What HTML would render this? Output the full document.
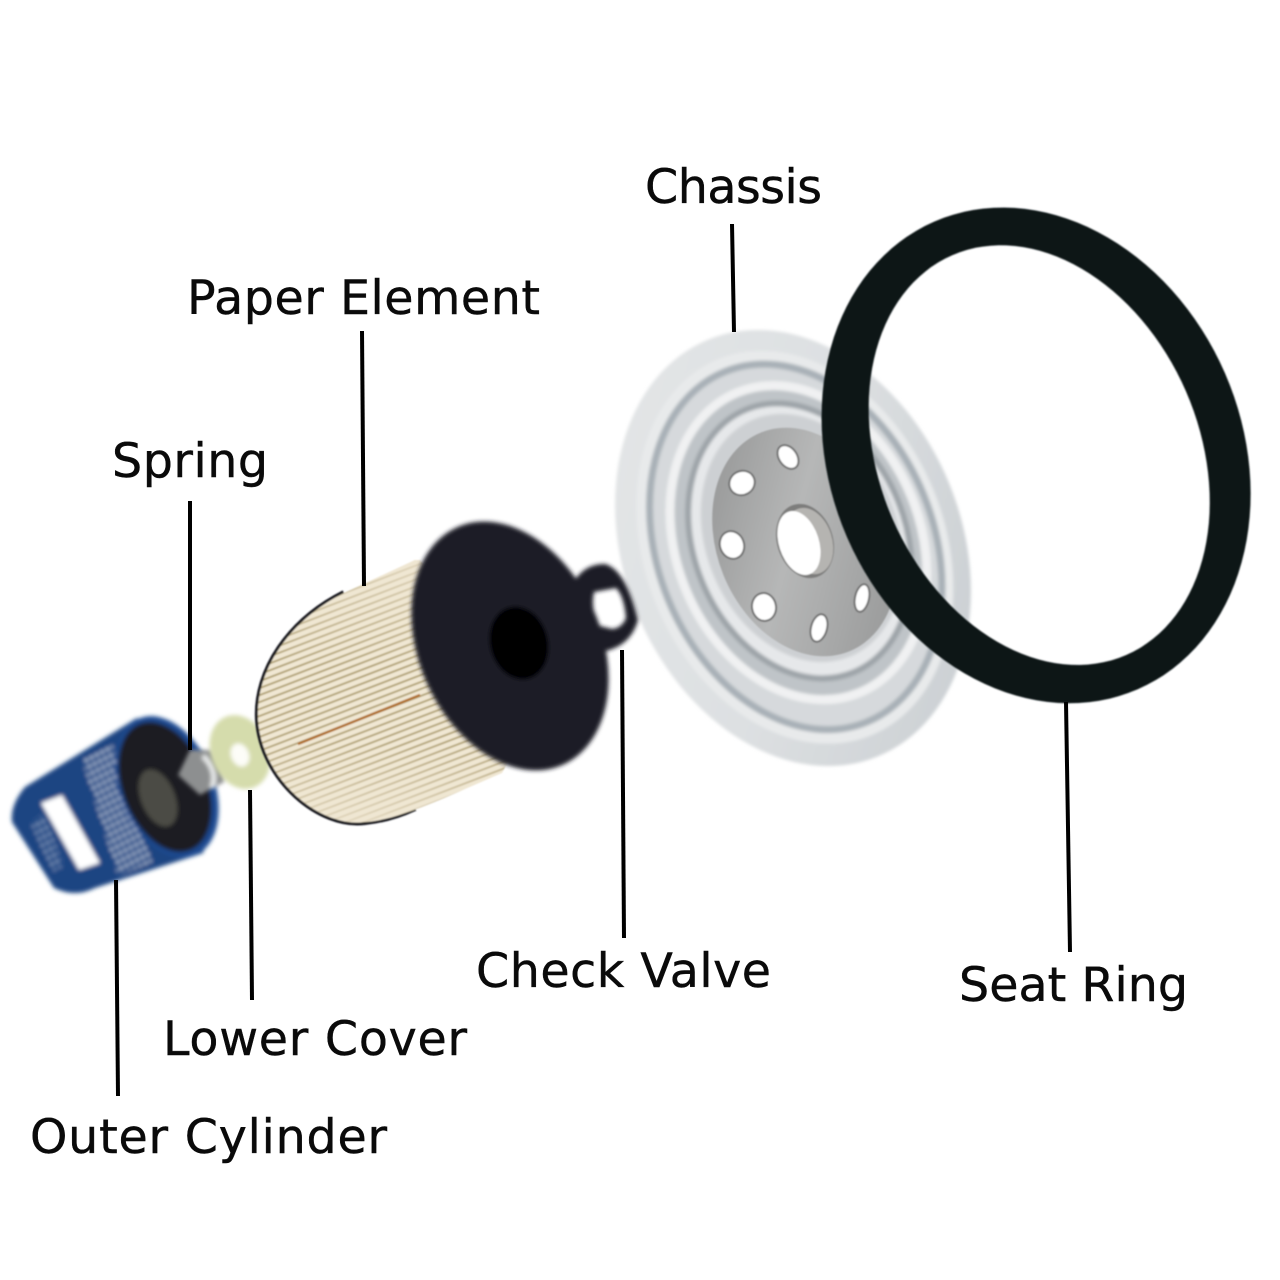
<!DOCTYPE html>
<html><head><meta charset="utf-8"><style>html,body{margin:0;padding:0;background:#fff}svg{display:block}
text{font-family:"DejaVu Sans","Liberation Sans",sans-serif;font-size:47.5px;fill:#0a0a0a;stroke:#0a0a0a;stroke-width:.45px}</style></head><body>
<svg width="1280" height="1280" viewBox="0 0 1280 1280" xmlns="http://www.w3.org/2000/svg">
<defs>
<filter id="b05" x="-10%" y="-10%" width="120%" height="120%"><feGaussianBlur stdDeviation="0.5"/></filter>
<filter id="b1" x="-10%" y="-10%" width="120%" height="120%"><feGaussianBlur stdDeviation="0.8"/></filter>
<filter id="b15" x="-10%" y="-10%" width="120%" height="120%"><feGaussianBlur stdDeviation="1.6"/></filter>
<filter id="b2" x="-10%" y="-10%" width="120%" height="120%"><feGaussianBlur stdDeviation="2"/></filter>
<linearGradient id="plate" x1="0" y1="0" x2="1" y2="1"><stop offset="0" stop-color="#8f9090"/><stop offset=".45" stop-color="#b6b7b7"/><stop offset="1" stop-color="#929393"/></linearGradient>
<linearGradient id="outerg" x1="0" y1="0" x2="1" y2="1"><stop offset="0" stop-color="#e4e6e7"/><stop offset=".5" stop-color="#dde0e2"/><stop offset="1" stop-color="#c6cbcf"/></linearGradient>
<pattern id="pleat" width="6.5" height="6.5" patternUnits="userSpaceOnUse" patternTransform="rotate(-21)"><rect width="6.5" height="6.5" fill="#f0e7d3"/><rect width="6.5" height="2" fill="#b5a67c"/></pattern>
<clipPath id="body"><path d="M415,560 L344,593 C290,620 255,670 258,720 C262,780 320,828 365,822 C400,820 450,795 502,773 L540,700 L420,560Z"/></clipPath>
<linearGradient id="fade" x1="0" y1="0" x2="0" y2="1"><stop offset="0" stop-color="#efe6d2" stop-opacity=".9"/><stop offset=".42" stop-color="#efe6d2" stop-opacity="0"/><stop offset=".68" stop-color="#efe6d2" stop-opacity=".05"/><stop offset="1" stop-color="#efe6d2" stop-opacity=".95"/></linearGradient>
<pattern id="ink" width="6" height="7" patternUnits="userSpaceOnUse" patternTransform="rotate(-27)"><rect width="6" height="7" fill="#1c4a88"/><rect y="1" width="3.5" height="3" fill="#d6e0ee"/></pattern>
</defs>
<rect width="1280" height="1280" fill="#fff"/>

<!-- Chassis -->
<g filter="url(#b15)">
<g transform="rotate(-22 793 548)">
<ellipse cx="793" cy="548" rx="169" ry="225" fill="url(#outerg)"/>
<ellipse cx="795" cy="548" rx="150" ry="203" fill="#e8eaeb"/>
<ellipse cx="796" cy="548" rx="138" ry="189" fill="#d6d9dc" stroke="#a9b1b7" stroke-width="7"/>
<ellipse cx="800" cy="545" rx="122" ry="162" fill="#bfc4c8" stroke="#f0f1f2" stroke-width="9"/>
<ellipse cx="802" cy="544" rx="106" ry="142" fill="#e6e8ea" stroke="#9ea4a9" stroke-width="6"/>
<ellipse cx="805" cy="542" rx="96" ry="128" fill="#cdd0d3"/>
</g>
</g>
<g filter="url(#b1)">
<ellipse cx="805" cy="542" rx="88" ry="118" transform="rotate(-22 805 542)" fill="url(#plate)"/>
<ellipse cx="805" cy="541" rx="28" ry="38" transform="rotate(-18 805 541)" fill="#7d7d7c"/>
<ellipse cx="809" cy="541" rx="23" ry="34" transform="rotate(-18 809 541)" fill="#b5b4b1"/>
<ellipse cx="799" cy="543" rx="20" ry="33" transform="rotate(-18 799 543)" fill="#fff"/>
<g fill="#fff" stroke="#6f7070" stroke-width="2">
<ellipse cx="788" cy="457" rx="9" ry="13" transform="rotate(-35 788 457)"/>
<ellipse cx="742" cy="483" rx="13" ry="12" transform="rotate(-30 742 483)"/>
<ellipse cx="732" cy="545" rx="12" ry="14" transform="rotate(-20 732 545)"/>
<ellipse cx="764" cy="607" rx="12" ry="14" transform="rotate(-10 764 607)"/>
<ellipse cx="819" cy="628" rx="8" ry="14" transform="rotate(15 819 628)"/>
<ellipse cx="862" cy="598" rx="7" ry="14" transform="rotate(12 862 598)"/>
</g>
</g>

<!-- Seat ring -->
<g filter="url(#b1)" transform="rotate(-23.5 1037 455)">
<path fill-rule="evenodd" fill="#0f1216" d="M830,455 a206,255 0 1,0 412,0 a206,255 0 1,0 -412,0Z M879,456 a160,218 0 1,0 320,0 a160,218 0 1,0 -320,0Z"/>
</g>

<!-- Outer cylinder -->
<g filter="url(#b2)">
<path d="M137,718 L25,787 Q10,805 12,822 L54,888 Q75,898 95,888 L203,853 L218,800Z" fill="#1a4582"/>
<path d="M82,760 L112,744 L152,862 L118,876Z" fill="url(#ink)" opacity=".9"/>
<path d="M30,822 L44,814 L64,866 L52,872Z" fill="url(#ink)" opacity=".6"/>
<polygon points="41,803 62,795 100,863 79,870" fill="#fff"/>
<ellipse cx="167" cy="787" rx="47" ry="74" transform="rotate(-22 167 787)" fill="#1a4a90"/>
<ellipse cx="165" cy="787" rx="42" ry="68" transform="rotate(-22 165 787)" fill="#1e1f20"/>
<ellipse cx="158" cy="798" rx="17" ry="30" transform="rotate(-22 158 798)" fill="#4c4c44"/>
</g>

<!-- Spring -->
<g filter="url(#b2)">
<path d="M190,750 L212,750 Q226,770 224,782 L200,795 L178,775Z" fill="#8d8f90"/>
<path d="M203,756 Q218,770 212,788" stroke="#e9ebeb" stroke-width="5" fill="none"/>
</g>

<!-- Lower cover -->
<g filter="url(#b2)">
<ellipse cx="240" cy="752" rx="29" ry="38" transform="rotate(-22 240 752)" fill="#d5dcac"/>
<ellipse cx="240" cy="755" rx="9" ry="12" transform="rotate(-22 240 755)" fill="#fdfdf8"/>
</g>

<!-- Paper element -->
<g filter="url(#b1)">
<path d="M344,593 C290,620 255,670 258,720 C262,780 320,828 365,822 C385,820 400,815 415,808" fill="none" stroke="#1a1c24" stroke-width="6"/>
<g clip-path="url(#body)">
<rect x="240" y="540" width="320" height="300" fill="url(#pleat)"/>
<rect x="240" y="540" width="320" height="300" fill="url(#fade)"/>
<line x1="298" y1="744" x2="420" y2="695" stroke="#b0702c" stroke-width="2.5"/>
</g>
</g>
<g filter="url(#b2)">
<path fill-rule="evenodd" fill="#1b1e25" d="M570,590 Q580,564 605,564 Q626,570 638,620 Q630,648 600,652Z M594,592 L616,588 Q624,596 626,618 Q622,628 612,629 L600,626 Q590,610 594,592Z"/>
<ellipse cx="510" cy="646" rx="91" ry="130" transform="rotate(-24 510 646)" fill="#1b1e27"/>
<ellipse cx="519" cy="643" rx="29" ry="37" transform="rotate(-15 519 643)" fill="#030405"/>
</g>

<!-- Leader lines -->
<g stroke="#000" stroke-width="4" fill="none">
<line x1="732" y1="224" x2="734" y2="332"/>
<line x1="362" y1="331" x2="364" y2="586"/>
<line x1="190" y1="501" x2="190" y2="750"/>
<line x1="622" y1="650" x2="624" y2="938"/>
<line x1="1066" y1="702" x2="1070" y2="952"/>
<line x1="250" y1="790" x2="252" y2="1000"/>
<line x1="116" y1="880" x2="118" y2="1096"/>
</g>

<text x="645" y="203" textLength="177" lengthAdjust="spacing">Chassis</text>
<text x="187" y="314" textLength="353" lengthAdjust="spacing">Paper Element</text>
<text x="112" y="477" textLength="156" lengthAdjust="spacing">Spring</text>
<text x="476" y="987" textLength="295" lengthAdjust="spacing">Check Valve</text>
<text x="959" y="1001" textLength="229" lengthAdjust="spacing">Seat Ring</text>
<text x="163" y="1055" textLength="304" lengthAdjust="spacing">Lower Cover</text>
<text x="30" y="1153" textLength="357" lengthAdjust="spacing">Outer Cylinder</text>
</svg>
</body></html>
